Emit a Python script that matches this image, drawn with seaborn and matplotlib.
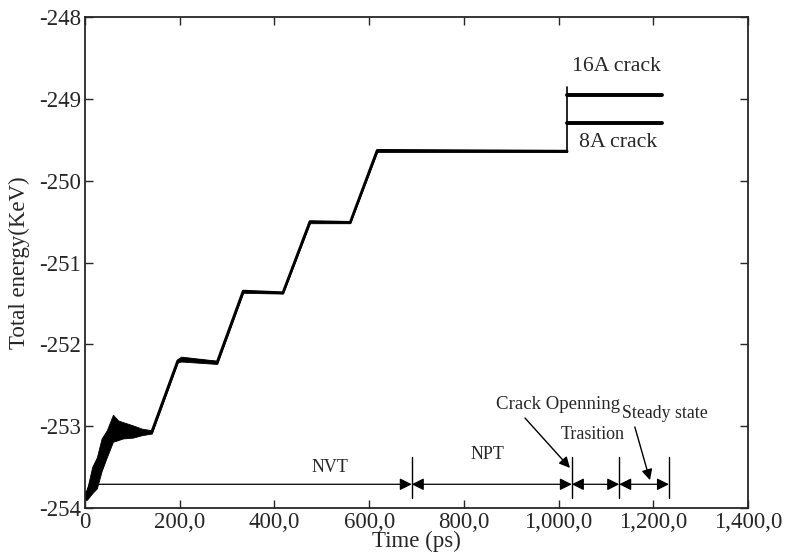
import numpy as np
import pandas as pd
import seaborn as sns
import matplotlib.pyplot as plt

# energy trajectory (ps, KeV): centre line plus noise envelope
time = [0, 4, 15, 25, 35, 46, 59, 70, 80, 101, 120, 141, 196, 203, 279, 334, 418, 475, 560, 617, 1018]
e_mid = [-253.85, -253.82, -253.65, -253.55, -253.35, -253.2, -253.0, -253.05, -253.02, -253.06, -253.07, -253.07,
         -252.2, -252.18, -252.22, -251.35, -251.37, -250.5, -250.51, -249.63, -249.64]
e_high = [-253.8, -253.78, -253.5, -253.38, -253.15, -253.05, -252.86, -252.93, -252.95, -252.99, -253.03, -253.05,
          -252.18, -252.15, -252.2, -251.34, -251.36, -250.49, -250.5, -249.62, -249.63]
e_low = [-253.9, -253.9, -253.82, -253.76, -253.55, -253.38, -253.19, -253.17, -253.15, -253.14, -253.11, -253.09,
         -252.22, -252.21, -252.24, -251.37, -251.38, -250.52, -250.52, -249.65, -249.65]

# after the crack opens
crack_t = [1018, 1219]
crack_16A = [-248.95, -248.95]
crack_8A = [-249.30, -249.30]
jump_top = -248.86

xticks = [0, 200, 400, 600, 800, 1000, 1200, 1400]
xtick_labels = ["0", "200,0", "400,0", "600,0", "800,0", "1,000,0", "1,200,0", "1,400,0"]
yticks = [-254, -253, -252, -251, -250, -249, -248]

# stage markers
stage_edges = [690, 1028, 1128, 1233]
nvt_start = 25
arrow_y = -253.71

sns.set_style("ticks")
plt.rcParams['font.family'] = ['Liberation Serif', 'DejaVu Serif']

fig = plt.figure(figsize=(7.85, 5.59), dpi=100)
ax = fig.add_axes([0.1083, 0.0912, 0.8446, 0.8784])

df = pd.DataFrame({"time": time, "energy": e_mid})
ax.fill_between(time, e_low, e_high, color='black', lw=0.6)
sns.lineplot(data=df, x="time", y="energy", color='black', lw=2.0, sort=False, estimator=None, ax=ax)
ax.plot([crack_t[0], crack_t[0]], [e_mid[-1], jump_top], color='black', lw=1.2)
ax.plot(crack_t, crack_16A, color='black', lw=2.8)
ax.plot(crack_t, crack_8A, color='black', lw=2.8)

ax.text(1123, -248.61, "16A crack", fontsize=15.7, ha='center', va='center')
ax.text(1125, -249.53, "8A crack", fontsize=15.7, ha='center', va='center')

# stage arrows
for xe in stage_edges:
    ax.plot([xe, xe], [-253.38, -253.88], color='black', lw=1.0)
arrow_kw = dict(arrowstyle='-|>', color='black', lw=0.9, mutation_scale=18, shrinkA=0, shrinkB=0)
ax.annotate("", xy=(stage_edges[0], arrow_y), xytext=(nvt_start, arrow_y), arrowprops=arrow_kw)
dbl_kw = dict(arrowstyle='<|-|>', color='black', lw=0.9, mutation_scale=18, shrinkA=0, shrinkB=0)
for a, b in zip(stage_edges[:-1], stage_edges[1:]):
    ax.annotate("", xy=(b, arrow_y), xytext=(a, arrow_y), arrowprops=dbl_kw)

ax.text(517, -253.5, "NVT", fontsize=13, ha='center', va='center')
ax.text(849, -253.35, "NPT", fontsize=13, ha='center', va='center')
ax.text(1073, -253.1, "Trasition", fontsize=13, ha='center', va='center')
ax.text(1225, -252.84, "Steady state", fontsize=12.8, ha='center', va='center')
ax.text(999, -252.74, "Crack Openning", fontsize=13.6, ha='center', va='center')

line_kw = dict(arrowstyle='-|>', color='black', lw=1.0, mutation_scale=16, shrinkA=0, shrinkB=0)
ax.annotate("", xy=(1024, -253.51), xytext=(929, -252.90), arrowprops=line_kw)
ax.annotate("", xy=(1193, -253.66), xytext=(1161, -253.01), arrowprops=line_kw)

ax.set_xlim(0, 1400)
ax.set_ylim(-254, -248)
ax.set_xticks(xticks)
ax.set_xticklabels(xtick_labels)
ax.set_yticks(yticks)
ax.set_yticklabels([str(v) for v in yticks])
ax.tick_params(direction='in', top=True, right=True, labelsize=16.5, length=6, width=1, pad=3)
ax.set_xlabel("Time (ps)", fontsize=16.5, labelpad=-2)
ax.set_ylabel("Total energy(KeV)", fontsize=16.5, labelpad=6)
for s in ax.spines.values():
    s.set_linewidth(1.3)
    s.set_visible(True)

fig.savefig("out.png", dpi=100)
